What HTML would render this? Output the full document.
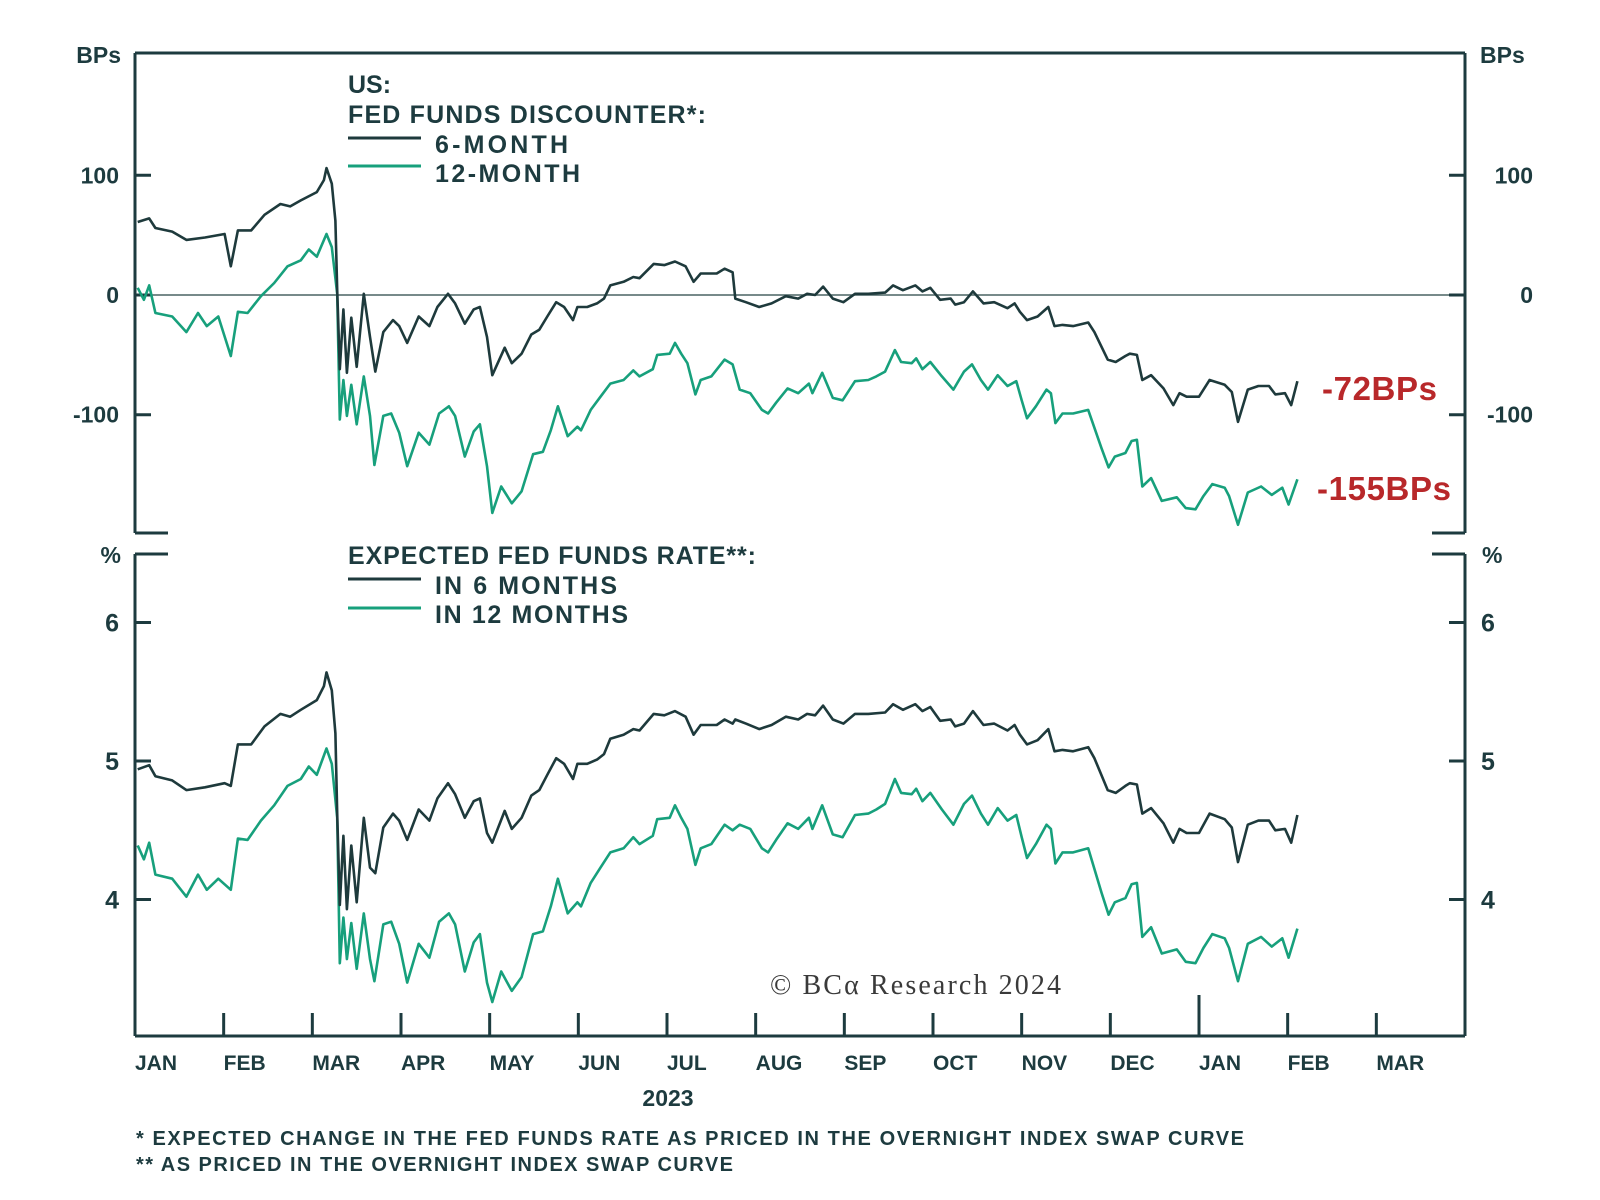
<!DOCTYPE html>
<html><head><meta charset="utf-8"><style>
html,body{margin:0;padding:0;background:#fff}
svg{display:block}
text{font-family:"Liberation Sans",Arial,sans-serif;font-weight:bold;fill:#1d3b3f}
</style></head><body>
<svg id="chart" width="1600" height="1200" viewBox="0 0 1600 1200" xmlns="http://www.w3.org/2000/svg">
<g id="frame"></g>
<g id="marks"></g>
<g id="labels">
  <text x="121" y="63" font-size="23" text-anchor="end">BPs</text>
  <text x="1480" y="63" font-size="23">BPs</text>
  <text x="121" y="563" font-size="23" text-anchor="end">%</text>
  <text x="1482" y="563" font-size="23">%</text>
  <text x="348" y="93" font-size="25">US:</text>
  <text x="348" y="123" font-size="25" textLength="358">FED FUNDS DISCOUNTER*:</text>
  <line x1="348" y1="138" x2="421" y2="138" stroke="#1e3a3c" stroke-width="3"/>
  <text x="435" y="153" font-size="25" textLength="133">6-MONTH</text>
  <line x1="348" y1="166" x2="421" y2="166" stroke="#17a07c" stroke-width="3"/>
  <text x="435" y="182" font-size="25" textLength="145">12-MONTH</text>
  <text x="348" y="564" font-size="25" textLength="408">EXPECTED FED FUNDS RATE**:</text>
  <line x1="348" y1="579" x2="421" y2="579" stroke="#1e3a3c" stroke-width="3"/>
  <text x="435" y="594" font-size="25" textLength="182">IN 6 MONTHS</text>
  <line x1="348" y1="608" x2="421" y2="608" stroke="#17a07c" stroke-width="3"/>
  <text x="435" y="623" font-size="25" textLength="193">IN 12 MONTHS</text>
  <text x="1322" y="400" font-size="33" style="fill:#b8282a" textLength="115">-72BPs</text>
  <text x="1317" y="500" font-size="33" style="fill:#b8282a" textLength="134">-155BPs</text>
  <text x="770" y="994" font-size="28" textLength="291" style="font-family:'Liberation Serif',serif;font-weight:normal;fill:#3a3a3a">© BCα Research 2024</text>
  <text x="668" y="1106" font-size="23" text-anchor="middle">2023</text>
  <text x="136" y="1145" font-size="20" textLength="1108">*   EXPECTED CHANGE IN THE FED FUNDS RATE AS PRICED IN THE OVERNIGHT INDEX SWAP CURVE</text>
  <text x="136" y="1171" font-size="20" textLength="597">** AS PRICED IN THE OVERNIGHT INDEX SWAP CURVE</text>
</g>
</svg>
<script>
const months = ["JAN","FEB","MAR","APR","MAY","JUN","JUL","AUG","SEP","OCT","NOV","DEC","JAN","FEB","MAR"];
const upperTicks = [100, 0, -100];
const lowerTicks = [6, 5, 4];
// dates in months since 1 Jan 2023
const upper6Dates = [0.03,0.16,0.23,0.42,0.58,0.79,1.01,1.08,1.16,1.31,1.46,1.64,1.75,1.87,2.05,2.13,2.16,2.22,2.26,2.28,2.31,2.35,2.39,2.44,2.50,2.58,2.65,2.71,2.80,2.91,2.98,3.07,3.20,3.32,3.41,3.53,3.61,3.72,3.82,3.89,3.97,4.03,4.17,4.25,4.36,4.47,4.56,4.65,4.75,4.84,4.94,4.99,5.10,5.21,5.29,5.36,5.51,5.62,5.69,5.85,5.97,6.09,6.21,6.30,6.38,6.56,6.65,6.74,6.77,6.89,7.04,7.18,7.34,7.48,7.58,7.67,7.76,7.87,7.99,8.12,8.27,8.46,8.55,8.66,8.80,8.88,8.97,9.08,9.20,9.25,9.35,9.45,9.57,9.69,9.84,9.92,9.98,10.06,10.18,10.30,10.37,10.46,10.58,10.75,10.82,10.97,11.06,11.17,11.22,11.30,11.36,11.46,11.60,11.71,11.78,11.86,12.00,12.12,12.29,12.37,12.44,12.55,12.67,12.79,12.86,12.97,13.04,13.11];
const upper6Values = [61,64,56,53,46,48,51,24,54,54,67,76,74,79,86,96,106,93,62,4,-62,-12,-65,-19,-60,1,-35,-64,-31,-21,-26,-40,-18,-26,-10,1,-7,-24,-12,-10,-35,-67,-44,-57,-49,-33,-29,-18,-6,-10,-21,-10,-10,-7,-3,8,11,15,14,26,25,28,24,11,18,18,22,19,-3,-6,-10,-7,-1,-3,1,0,7,-3,-6,1,1,2,8,4,8,3,6,-4,-3,-8,-6,3,-7,-6,-11,-7,-14,-21,-18,-10,-26,-25,-26,-23,-31,-54,-56,-51,-49,-50,-71,-67,-78,-92,-82,-85,-85,-71,-75,-81,-106,-79,-76,-76,-83,-82,-92,-72];
const lower6Values = [4.94,4.97,4.89,4.86,4.79,4.81,4.84,4.82,5.12,5.12,5.25,5.34,5.32,5.37,5.44,5.54,5.64,5.51,5.20,4.62,3.96,4.46,3.93,4.39,3.98,4.59,4.23,4.19,4.52,4.62,4.57,4.43,4.65,4.57,4.73,4.84,4.76,4.59,4.71,4.73,4.48,4.41,4.64,4.51,4.59,4.75,4.79,4.90,5.02,4.98,4.87,4.98,4.98,5.01,5.05,5.16,5.19,5.23,5.22,5.34,5.33,5.36,5.32,5.19,5.26,5.26,5.30,5.27,5.30,5.27,5.23,5.26,5.32,5.30,5.34,5.33,5.40,5.30,5.27,5.34,5.34,5.35,5.41,5.37,5.41,5.36,5.39,5.29,5.30,5.25,5.27,5.36,5.26,5.27,5.22,5.26,5.19,5.12,5.15,5.23,5.07,5.08,5.07,5.10,5.02,4.79,4.77,4.82,4.84,4.83,4.62,4.66,4.55,4.41,4.51,4.48,4.48,4.62,4.58,4.52,4.27,4.54,4.57,4.57,4.50,4.51,4.41,4.61];
const upper12Dates = [0.03,0.10,0.16,0.23,0.42,0.58,0.71,0.81,0.94,1.08,1.16,1.27,1.42,1.57,1.72,1.87,1.96,2.05,2.16,2.22,2.28,2.31,2.35,2.39,2.44,2.50,2.58,2.65,2.70,2.80,2.89,2.98,3.07,3.20,3.32,3.43,3.54,3.61,3.72,3.82,3.89,3.97,4.03,4.13,4.25,4.36,4.49,4.60,4.69,4.77,4.88,4.99,5.03,5.14,5.25,5.36,5.51,5.62,5.69,5.84,5.89,6.03,6.09,6.16,6.23,6.32,6.38,6.50,6.65,6.74,6.82,6.94,7.07,7.14,7.23,7.36,7.48,7.60,7.64,7.75,7.87,7.98,8.12,8.27,8.36,8.46,8.57,8.64,8.76,8.81,8.88,8.97,9.10,9.23,9.35,9.44,9.54,9.62,9.73,9.84,9.94,10.00,10.06,10.16,10.28,10.33,10.38,10.46,10.58,10.75,10.90,10.98,11.05,11.17,11.24,11.30,11.36,11.46,11.58,11.75,11.85,11.96,12.05,12.15,12.29,12.34,12.44,12.55,12.70,12.82,12.94,13.01,13.11];
const upper12Values = [6,-4,8,-15,-18,-31,-15,-26,-18,-51,-14,-15,-1,10,24,29,38,32,51,40,1,-104,-71,-101,-75,-108,-68,-101,-142,-101,-99,-115,-143,-115,-125,-99,-93,-101,-135,-114,-108,-143,-182,-160,-174,-164,-133,-131,-113,-93,-118,-110,-113,-96,-85,-74,-71,-63,-68,-62,-50,-49,-40,-49,-57,-83,-71,-68,-54,-58,-79,-82,-96,-99,-90,-78,-82,-74,-82,-65,-86,-88,-72,-71,-68,-64,-46,-56,-57,-53,-62,-56,-68,-79,-64,-58,-71,-79,-67,-76,-72,-88,-103,-93,-79,-82,-107,-99,-99,-96,-128,-144,-135,-132,-122,-121,-160,-153,-172,-169,-178,-179,-168,-158,-161,-168,-192,-165,-160,-167,-161,-175,-154];
const lower12Values = [4.39,4.29,4.41,4.18,4.15,4.02,4.18,4.07,4.15,4.07,4.44,4.43,4.57,4.68,4.82,4.87,4.96,4.90,5.09,4.98,4.59,3.54,3.87,3.57,3.83,3.50,3.90,3.57,3.41,3.82,3.84,3.68,3.40,3.68,3.58,3.84,3.90,3.82,3.48,3.69,3.75,3.40,3.26,3.48,3.34,3.44,3.75,3.77,3.95,4.15,3.90,3.98,3.95,4.12,4.23,4.34,4.37,4.45,4.40,4.46,4.58,4.59,4.68,4.59,4.51,4.25,4.37,4.40,4.54,4.50,4.54,4.51,4.37,4.34,4.43,4.55,4.51,4.59,4.51,4.68,4.47,4.45,4.61,4.62,4.65,4.69,4.87,4.77,4.76,4.80,4.71,4.77,4.65,4.54,4.69,4.75,4.62,4.54,4.66,4.57,4.61,4.45,4.30,4.40,4.54,4.51,4.26,4.34,4.34,4.37,4.05,3.89,3.98,4.01,4.11,4.12,3.73,3.80,3.61,3.64,3.55,3.54,3.65,3.75,3.72,3.65,3.41,3.68,3.73,3.66,3.72,3.58,3.79];

const NS = "http://www.w3.org/2000/svg";
const X0 = 135, X1 = 1465, MW = (X1 - X0) / 15;
const UT = 53, UB = 533, LT = 554, LB = 1036;
const INK = "#1d3b3f", DARK = "#1e3a3c", GREEN = "#17a07c";
function xs(m){ return X0 + m * MW; }
function yUp(v){ return 295 - v * 1.197; }
function yLo(v){ return 761 - (v - 5) * 138.5; }
function mk(tag, attrs, parent){
  const e = document.createElementNS(NS, tag);
  for (const k in attrs) e.setAttribute(k, attrs[k]);
  parent.appendChild(e); return e;
}
const frame = document.getElementById("frame");
const marks = document.getElementById("marks");
const labels = document.getElementById("labels");
const st = {stroke: INK, "stroke-width": 3, fill: "none"};

let e;
e = mk("line", Object.assign({x1: X0, y1: UT, x2: X1, y2: UT}, st), frame);


e = mk("line", Object.assign({x1: X0, y1: UT, x2: X0, y2: UB}, st), frame);


e = mk("line", Object.assign({x1: X1, y1: UT, x2: X1, y2: UB}, st), frame);


e = mk("path", Object.assign({d: `M${X0} ${UB}H${X0+33}M${X1} ${UB}H${X1-33}M${X0} ${LT}H${X0+33}M${X1} ${LT}H${X1-33}`}, st), frame);


e = mk("line", Object.assign({x1: X0, y1: LT, x2: X0, y2: LB}, st), frame);


e = mk("line", Object.assign({x1: X1, y1: LT, x2: X1, y2: LB}, st), frame);


e = mk("line", Object.assign({x1: X0, y1: LB, x2: X1, y2: LB}, st), frame);


e = mk("line", {x1: X0, y1: yUp(0), x2: X1, y2: yUp(0), stroke: "#4a6464", "stroke-width": 1.6}, frame);



upperTicks.forEach(v => {
  const y = yUp(v);
  e = mk("path", Object.assign({d: `M${X0} ${y}H${X0+16}M${X1} ${y}H${X1-16}`}, st), frame);
  
  
  e = mk("text", {x: 119, y: y + 8, "font-size": 23, "text-anchor": "end"}, labels);
  e.textContent = v;
  
  
  e = mk("text", {x: 1533, y: y + 8, "font-size": 23, "text-anchor": "end"}, labels);
  e.textContent = v;
  
  
});
lowerTicks.forEach(v => {
  const y = yLo(v);
  e = mk("path", Object.assign({d: `M${X0} ${y}H${X0+16}M${X1} ${y}H${X1-16}`}, st), frame);
  
  
  e = mk("text", {x: 119, y: y + 9, "font-size": 25, "text-anchor": "end"}, labels);
  e.textContent = v;
  
  
  e = mk("text", {x: 1481, y: y + 9, "font-size": 25}, labels);
  e.textContent = v;
  
  
});
months.forEach((m, i) => {
  const x = xs(i);
  if (i > 0) {
    e = mk("line", Object.assign({x1: x, y1: LB, x2: x, y2: i === 12 ? 995 : 1013}, st), frame);
    
    
  }
  e = mk("text", {x: x, y: 1070, "font-size": 21}, labels);
  e.textContent = m;
  
  
});

function line(dates, vals, yf, color){
  let d = "";
  dates.forEach((m, i) => { d += (i ? "L" : "M") + xs(m).toFixed(1) + " " + yf(vals[i]).toFixed(1); });
  return mk("path", {d: d, stroke: color, "stroke-width": 2.6, fill: "none", "stroke-linejoin": "round"}, marks);
}
e = line(upper12Dates, upper12Values, yUp, GREEN);


e = line(upper6Dates, upper6Values, yUp, DARK);


e = line(upper12Dates, lower12Values, yLo, GREEN);


e = line(upper6Dates, lower6Values, yLo, DARK);


</script>
</body></html>
